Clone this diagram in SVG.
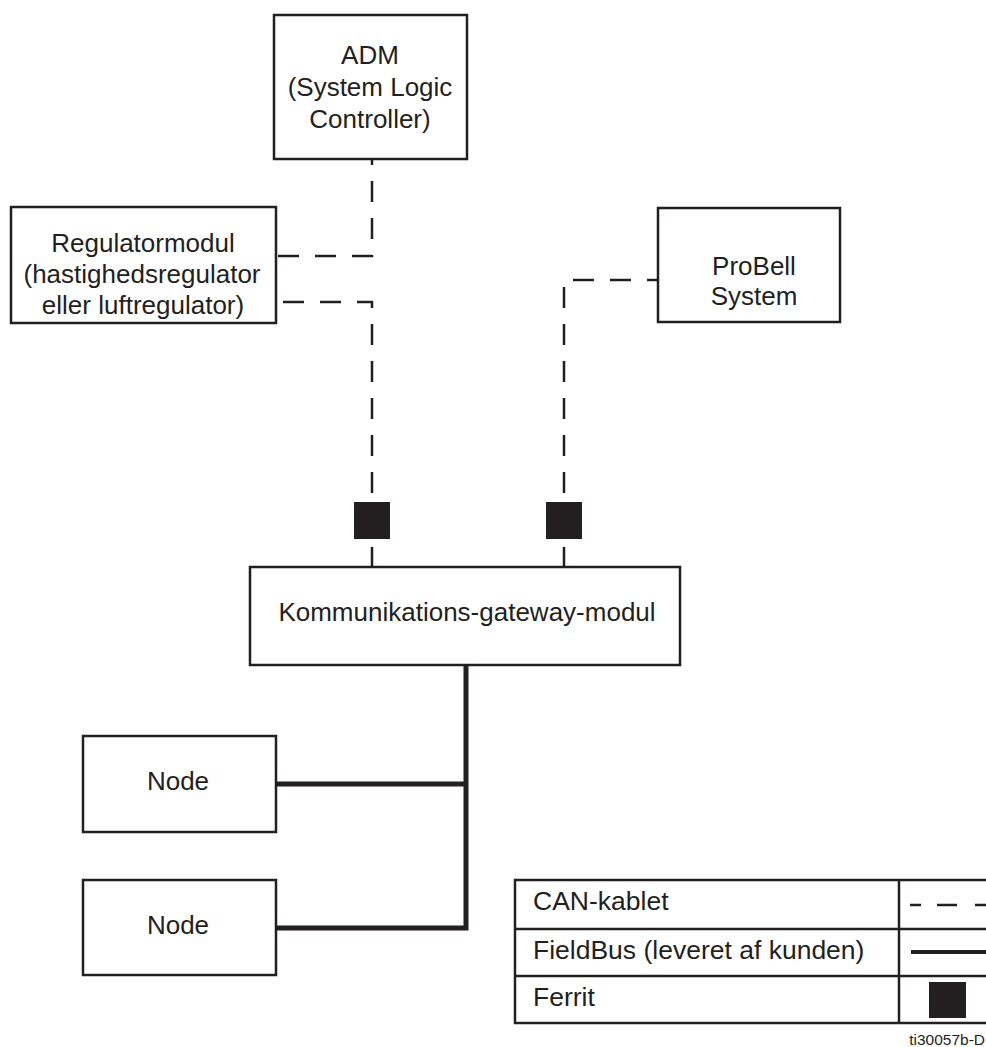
<svg xmlns="http://www.w3.org/2000/svg" width="986" height="1047" viewBox="0 0 986 1047">
<style>
.box{fill:#fff;stroke:#231f20;stroke-width:2.5}
.t{font-family:"Liberation Sans",Arial,sans-serif;font-size:26px;fill:#231f20;text-anchor:middle}
.lt{font-family:"Liberation Sans",Arial,sans-serif;font-size:26.5px;fill:#231f20}
.can{fill:none;stroke:#231f20;stroke-width:2.5;stroke-dasharray:21 16}
.solid{fill:none;stroke:#231f20;stroke-width:2.5}
.fb{fill:none;stroke:#231f20;stroke-width:5}
.ferrit{fill:#231f20}
</style>
<rect width="986" height="1047" fill="#fff"/>
<g id="connectors">
<path class="can" d="M372,159 V256 H277" stroke-dashoffset="15"/>
<path class="can" d="M372,502 V302 H277" stroke-dashoffset="-9"/>
<path class="can" d="M564,502 V280 H658" stroke-dashoffset="-9"/>
<line class="solid" x1="372" y1="547" x2="372" y2="568"/>
<line class="solid" x1="564" y1="547" x2="564" y2="568"/>
<path class="fb" d="M466,665 V928 H276"/>
<line class="fb" x1="276" y1="784" x2="468" y2="784"/>
</g>
<g id="ferrit1"><rect class="ferrit" x="354" y="502" width="36" height="37"/></g>
<g id="ferrit2"><rect class="ferrit" x="546" y="502" width="36" height="37"/></g>
<g id="adm">
<rect class="box" x="274" y="15" width="193" height="144"/>
<text class="t" x="370" y="64">ADM</text>
<text class="t" x="370" y="96">(System Logic</text>
<text class="t" x="370" y="128">Controller)</text>
</g>
<g id="regulator">
<rect class="box" x="11" y="207" width="265" height="116"/>
<text class="t" x="143" y="252">Regulatormodul</text>
<text class="t" x="142" y="283">(hastighedsregulator</text>
<text class="t" x="143" y="314">eller luftregulator)</text>
</g>
<g id="probell">
<rect class="box" x="658" y="208" width="182" height="114"/>
<text class="t" x="754" y="275">ProBell</text>
<text class="t" x="754" y="305">System</text>
</g>
<g id="gateway">
<rect class="box" x="250" y="567" width="430" height="98"/>
<text class="t" x="467" y="621">Kommunikations-gateway-modul</text>
</g>
<g id="node1">
<rect class="box" x="83" y="736" width="193" height="96"/>
<text class="t" x="178" y="790">Node</text>
</g>
<g id="node2">
<rect class="box" x="83" y="880" width="193" height="95"/>
<text class="t" x="178" y="934">Node</text>
</g>
<g id="legend">
<rect class="box" x="515" y="880" width="500" height="143"/>
<line class="solid" x1="515" y1="929" x2="986" y2="929"/>
<line class="solid" x1="515" y1="976" x2="986" y2="976"/>
<line class="solid" x1="899" y1="880" x2="899" y2="1023"/>
<text class="lt" x="533" y="910">CAN-kablet</text>
<text class="lt" x="533" y="959">FieldBus (leveret af kunden)</text>
<text class="lt" x="533" y="1006">Ferrit</text>
<path class="solid" d="M910,905 H921 M937,905 H957 M975,905 H986"/>
<line x1="911" y1="952" x2="986" y2="952" stroke="#231f20" stroke-width="4"/>
<rect class="ferrit" x="929" y="982" width="37" height="36"/>
</g>
<text x="985" y="1045" font-family="Liberation Sans,Arial,sans-serif" font-size="15.5" fill="#231f20" text-anchor="end">ti30057b-D</text>
</svg>
